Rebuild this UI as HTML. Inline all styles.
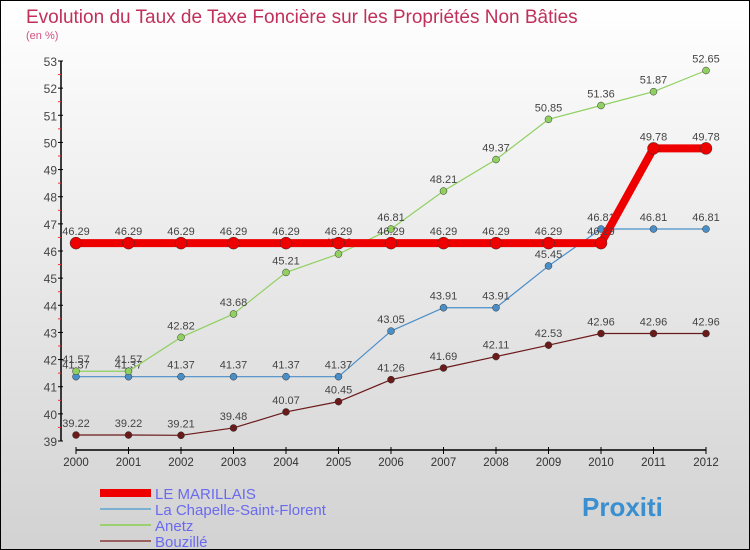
<!DOCTYPE html>
<html><head><meta charset="utf-8"><style>
body{margin:0}
#c{width:750px;height:550px;position:relative;box-sizing:border-box;border:1px solid #000;background:linear-gradient(#fff,#d2d2d2);font-family:"Liberation Sans",sans-serif;overflow:hidden}
</style></head><body>
<div id="c">
<svg id="s" width="750" height="550" style="position:absolute;left:-1px;top:-1px">
<text x="26" y="23" font-size="19" fill="#c0305a">Evolution du Taux de Taxe Foncière sur les Propriétés Non Bâties</text>
<text x="26" y="39" font-size="11" fill="#d05080">(en %)</text>
</svg>
</div>
<script>
const years=[2000,2001,2002,2003,2004,2005,2006,2007,2008,2009,2010,2011,2012];
const marillais=[46.29,46.29,46.29,46.29,46.29,46.29,46.29,46.29,46.29,46.29,46.29,49.78,49.78];
const chapelle=[41.37,41.37,41.37,41.37,41.37,41.37,43.05,43.91,43.91,45.45,46.81,46.81,46.81];
const anetz=[41.57,41.57,42.82,43.68,45.21,45.89,46.81,48.21,49.37,50.85,51.36,51.87,52.65];
const bouzille=[39.22,39.22,39.21,39.48,40.07,40.45,41.26,41.69,42.11,42.53,42.96,42.96,42.96];
const yTicks=[39,40,41,42,43,44,45,46,47,48,49,50,51,52,53];
const s=document.getElementById('s');const NS='http://www.w3.org/2000/svg';
const X=i=>76+i*52.5, Y=v=>441-(v-39)*(380/14);
function el(t,a,p){const e=document.createElementNS(NS,t);for(const k in a)e.setAttribute(k,a[k]);(p||s).appendChild(e);return e;}
let ax=el('line',{x1:61,y1:61,x2:61,y2:441,stroke:'#000','stroke-width':1.5});


yTicks.forEach(v=>{el('line',{x1:58,x2:63,y1:Y(v),y2:Y(v),stroke:'#000'});
if(v<53)el('line',{x1:58,x2:61,y1:Y(v+0.5),y2:Y(v+0.5),stroke:'#e33'});
const t=el('text',{x:57,y:Y(v)+5,'font-size':12,'text-anchor':'end',fill:'#444'});t.textContent=v;

});
let xa=el('line',{x1:76,y1:450,x2:706,y2:450,stroke:'#000','stroke-width':1.5});


years.forEach((y,i)=>{el('line',{x1:X(i),x2:X(i),y1:447,y2:454,stroke:'#000'});
const t=el('text',{x:X(i),y:466,'font-size':11.5,'text-anchor':'middle',fill:'#333'});t.textContent=y;

});
function series(d,col,w,r,name){
const g=el('g',{});


el('polyline',{points:d.map((v,i)=>X(i)+','+Y(v)).join(' '),fill:'none',stroke:col,'stroke-width':w},g);
d.forEach((v,i)=>{el('circle',{cx:X(i),cy:Y(v),r:r,fill:col,stroke:'#333','stroke-width':0.5},g);
const t=el('text',{x:X(i),y:Y(v)-8,'font-size':11,'text-anchor':'middle',fill:'#444'},g);t.textContent=v;});}
series(bouzille,'#6b1a1a',1.2,3.5,'series-bouzille');
series(chapelle,'#4a8ec8',1.2,3.5,'series-chapelle');
series(anetz,'#8fd060',1.2,3.5,'series-anetz');
series(marillais,'#ee0000',8,6,'series-le-marillais');
const leg=[['LE MARILLAIS','#ee0000',8],['La Chapelle-Saint-Florent','#7ab0d0',2],['Anetz','#9ad070',2],['Bouzillé','#9a6060',2]];
leg.forEach((l,i)=>{const y=493+i*16;
const g=el('g',{});


el('line',{x1:100,x2:151,y1:y,y2:y,stroke:l[1],'stroke-width':l[2]},g);
const t=el('text',{x:155,y:y+6,'font-size':15,fill:'#6a6af0'},g);t.textContent=l[0];});
const p=el('text',{x:582,y:516,'font-size':26,'font-weight':'bold',fill:'#3a8fd0'});p.textContent='Proxiti';


</script>
</body></html>
